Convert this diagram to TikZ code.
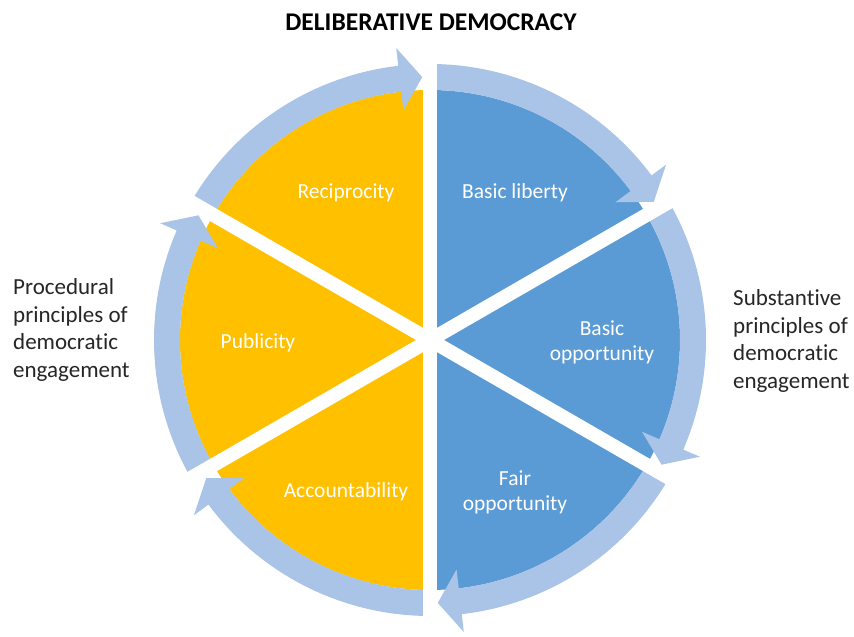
\documentclass[tikz,border=0pt]{standalone}
\usepackage{fontspec}
\setmainfont[Ligatures=NoCommon]{Carlito}
\definecolor{ringblue}{RGB}{169,196,230}
\definecolor{secblue}{RGB}{91,155,213}
\definecolor{secyellow}{RGB}{255,192,0}
\newcommand\ringarrow[2]{%
  \pgfmathsetmacro\rah{#2+6.6}%
  \pgfmathsetmacro\rat{#2+1.7}%
  \fill[ringblue] (#1:276) arc[start angle=#1, end angle=\rah, radius=276]
    -- (\rah:294) -- (\rat:263) -- (\rah:231) -- (\rah:250)
    arc[start angle=\rah, end angle=#1, radius=250] -- cycle;}
\tikzset{
  inlabel/.style={text=white, font=\fontsize{21.5}{25}\selectfont, align=center, inner sep=0pt},
  sidelabel/.style={text=black!85, font=\fontsize{23}{27.5}\selectfont, align=left, inner sep=0pt, anchor=west},
  titlelabel/.style={text=black, font=\bfseries\fontsize{25.5}{28}\selectfont, inner sep=0pt}
}
\begin{document}
\begin{tikzpicture}[x=1pt,y=1pt]
\useasboundingbox (0,0) rectangle (854,637);
\fill[white] (0,0) rectangle (854,637);
\begin{scope}[shift={(430,297)}]
  % sectors
  \fill[secyellow] (0,0) -- (90:250) arc[start angle=90, end angle=270, radius=250] -- cycle;
  \fill[secblue] (0,0) -- (-90:250) arc[start angle=-90, end angle=90, radius=250] -- cycle;
  % ring arrows (clockwise)
  \ringarrow{90}{30}
  \ringarrow{30}{-30}
  \ringarrow{-30}{-90}
  \ringarrow{270}{210}
  \ringarrow{210}{150}
  \ringarrow{150}{90}
  % white dividers
  \draw[white, line width=14pt] (90:302) -- (270:302);
  \draw[white, line width=14pt] (30:302) -- (210:302);
  \draw[white, line width=14pt] (-30:302) -- (150:302);
\end{scope}
% labels
\node[titlelabel] (title) at (431,615) {DELIBERATIVE DEMOCRACY};
\node[inlabel] (recip) at (346,444) {Reciprocity};
\node[inlabel] (liberty) at (515,444) {Basic liberty};
\node[inlabel] (basicopp) at (602,295) {Basic\\opportunity};
\node[inlabel] (publicity) at (258,294) {Publicity};
\node[inlabel] (account) at (346,145) {Accountability};
\node[inlabel] (fairopp) at (515,145) {Fair\\opportunity};
\node[sidelabel] (procedural) at (13,307) {Procedural\\principles of\\democratic\\engagement};
\node[sidelabel] (substantive) at (733,296) {Substantive\\principles of\\democratic\\engagement};
\end{tikzpicture}
\end{document}
